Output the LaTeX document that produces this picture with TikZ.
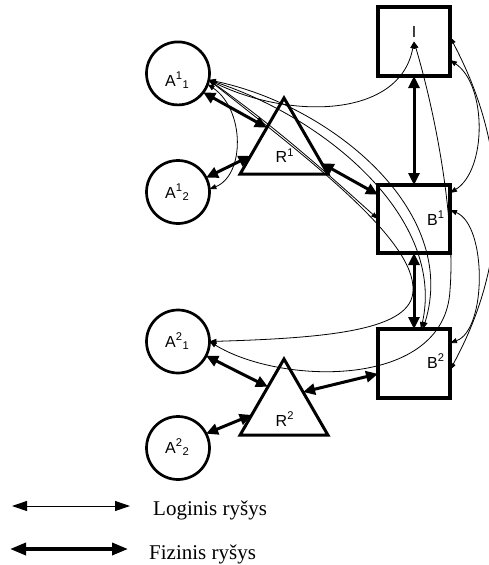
\documentclass[tikz,border=0pt]{standalone}
\usepackage{fontspec}
\setmainfont{Liberation Serif}
\newfontfamily\arialf{Liberation Sans}
\usetikzlibrary{arrows.meta,shapes.geometric}
\begin{document}
\begin{tikzpicture}[x=1pt,y=-1pt,
  box/.style={draw, line width=3.2pt, minimum width=72pt, minimum height=69pt, inner sep=0pt, outer sep=0pt},
  circ/.style={draw, circle, line width=2.7pt, minimum size=63pt, inner sep=0pt, outer sep=0pt},
  tri/.style={draw, regular polygon, regular polygon sides=3, minimum size=101.6pt, line width=3pt, inner sep=0pt, outer sep=0pt},
  lbl/.style={font=\arialf\fontsize{16}{18}\selectfont, inner sep=0pt},
  legtext/.style={font=\fontsize{21}{25}\selectfont, inner sep=0pt},
  phys/.style={line width=3pt, {Triangle[length=12pt,width=11pt]}-{Triangle[length=12pt,width=11pt]}},
  logi/.style={line width=0.8pt, {Triangle[length=7pt,width=5pt]}-{Triangle[length=7pt,width=5pt]}},
  legthin/.style={line width=1pt, {Triangle[length=15pt,width=10pt]}-{Triangle[length=15pt,width=10pt]}},
  legthick/.style={line width=3.5pt, {Triangle[length=16pt,width=12pt]}-{Triangle[length=16pt,width=12pt]}},
]
\clip (0,0) rectangle (489,565);
% boxes
\node[box] (I) at (414,41.5) {};
\node[box, minimum height=68pt] (B1) at (414,219) {};
\node[box] (B2) at (414,363.5) {};
% circles
\node[circ] (A11) at (178,73.4) {};
\node[circ] (A12) at (178,192) {};
\node[circ] (A21) at (178,341.5) {};
\node[circ] (A22) at (178,448) {};
% triangles
\node[tri] (R1) at (284,148.8) {};
\node[tri] (R2) at (284,409.8) {};
% labels
\node[lbl, anchor=base] (Il) at (414,37) {I};
\node[lbl, anchor=base west] (B1l) at (427,225) {B\textsuperscript{1}};
\node[lbl, anchor=base west] (B2l) at (427,368) {B\textsuperscript{2}};
\node[lbl, anchor=base west] (R1l) at (275.5,162.5) {R\textsuperscript{1}};
\node[lbl, anchor=base west] (R2l) at (275.5,426) {R\textsuperscript{2}};
\node[lbl, anchor=base west] (A11l) at (165,86) {A\textsuperscript{1}\textsubscript{1}};
\node[lbl, anchor=base west] (A12l) at (165,198) {A\textsuperscript{1}\textsubscript{2}};
\node[lbl, anchor=base west] (A21l) at (165,347) {A\textsuperscript{2}\textsubscript{1}};
\node[lbl, anchor=base west] (A22l) at (165,453) {A\textsuperscript{2}\textsubscript{2}};
% logical links
\draw[logi] (A11.-12) .. controls (290,120) and (400,118) .. (I.center);
\draw[logi] (A11.-20) .. controls (245,110) and (245,175) .. (A12.5);
\draw[logi] (A11.-12) .. controls (280,130) and (340,185) .. (B1.west);
\draw[logi] (A11.-12) .. controls (310,160) and (415,240) .. (413,290) .. controls (413,330) and (330,338) .. (A21.east);
\draw[logi] (A11.-12) .. controls (330,120) and (445,220) .. ([xshift=7pt]B2.north);
\draw[logi] (A11.-12) .. controls (330,105) and (460,210) .. ([xshift=9pt]B2.north);
\draw[logi] (I.center) .. controls (440,130) and (455,230) .. (450,290) .. controls (445,390) and (280,385) .. (A21.east);
\draw[logi] ([yshift=-18.5pt]I.east) .. controls (487,85) and (487,170) .. ([yshift=26pt]B1.east);
\draw[logi] ([yshift=4.5pt]I.east) .. controls (510,150) and (510,260) .. ([yshift=-6.5pt]B2.east);
\draw[logi] ([yshift=9pt]B1.east) .. controls (487,225) and (487,330) .. ([yshift=20.5pt]B2.east);
% physical links
\draw[phys] (A11.-37) -- (R1.129);
\draw[phys] (A12.27) -- (R1.192);
\draw[phys] (R1.-21) -- (B1.146);
\draw[phys] (I.south) -- (B1.north);
\draw[phys] (B1.south) -- (B2.north);
\draw[phys] (A21.-27) -- (R2.125);
\draw[phys] (A22.27) -- (R2.189);
\draw[phys] (R2.43) -- (B2.196);
% legend
\coordinate (LgA1) at (12,506);
\coordinate (LgA2) at (130,506);
\draw[legthin] (LgA1) -- (LgA2);
\coordinate (LgB1) at (10,549);
\coordinate (LgB2) at (128,549);
\draw[legthick] (LgB1) -- (LgB2);
\node[legtext, anchor=base west] (Lt1) at (153,515.5) {Loginis ryšys};
\node[legtext, anchor=base west] (Lt2) at (149,559) {Fizinis ryšys};
\end{tikzpicture}
\end{document}
